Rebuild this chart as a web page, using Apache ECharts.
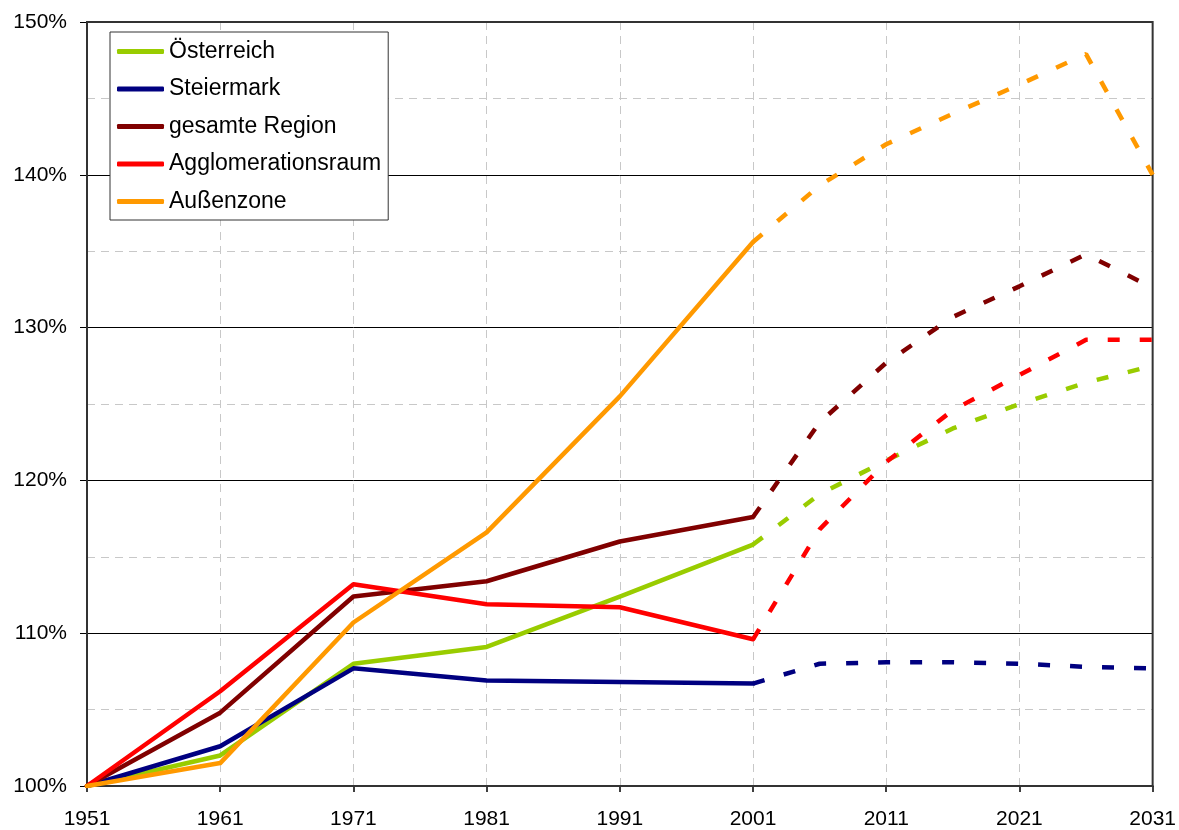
<!DOCTYPE html>
<html>
<head>
<meta charset="utf-8">
<title>Bevölkerungsentwicklung</title>
<script src="https://cdn.jsdelivr.net/npm/echarts@6/dist/echarts.min.js"></script>
<style>
    body {margin: 0; background: #fff;}
    #main {width: 1179px; height: 830px;}
</style>
</head>
<body>
<div id="main"></div>
<script>
// Jahre (Zeitachse beginnt bei 1951)
const baseYear = 1951;
const histYears = [1951, 1961, 1971, 1981, 1991, 2001];
const projYears = [2001, 2006, 2011, 2016, 2021, 2026, 2031];

const names = ['Österreich', 'Steiermark', 'gesamte Region', 'Agglomerationsraum', 'Außenzone'];
const colors = ['#99CC00', '#000080', '#800000', '#FF0000', '#FF9900'];

// Index 1951 = 100%, bisherige Entwicklung
const histOesterreich = [100, 102.0, 108.0, 109.1, 112.4, 115.8];
const histSteiermark = [100, 102.6, 107.7, 106.9, 106.8, 106.7];
const histRegion = [100, 104.8, 112.4, 113.4, 116.0, 117.6];
const histAgglo = [100, 106.2, 113.2, 111.9, 111.7, 109.6];
const histAussen = [100, 101.5, 110.7, 116.6, 125.5, 135.6];

// Prognose (gestrichelt)
const projOesterreich = [115.8, 119.1, 121.3, 123.4, 125.0, 126.4, 127.5];
const projSteiermark = [106.7, 108.0, 108.1, 108.1, 108.0, 107.8, 107.7];
const projRegion = [117.6, 123.8, 127.7, 130.7, 132.7, 134.8, 132.6];
const projAgglo = [109.6, 116.8, 121.2, 124.6, 126.9, 129.2, 129.2];
const projAussen = [135.6, 139.3, 142.0, 144.0, 145.9, 147.9, 140.0];

const histData = [histOesterreich, histSteiermark, histRegion, histAgglo, histAussen];
const projData = [projOesterreich, projSteiermark, projRegion, projAgglo, projAussen];

const fontFamily = '"Liberation Sans", Arial, sans-serif';

const toPairs = (years, values) => years.map((y, i) => [y - baseYear, values[i]]);

const series = [];
names.forEach((name, i) => {
    series.push({
        name: name,
        type: 'line',
        symbol: 'none',
        color: colors[i],
        lineStyle: {width: 4.5, color: colors[i], cap: 'round', join: 'round'},
        data: toPairs(histYears, histData[i]),
        z: 10 + i
    });
});
names.forEach((name, i) => {
    series.push({
        name: name,
        type: 'line',
        symbol: 'none',
        color: colors[i],
        lineStyle: {width: 4.5, color: colors[i], type: [12, 20], cap: 'butt'},
        data: toPairs(projYears, projData[i]),
        z: 5 + i
    });
});

const myChart = echarts.init(document.getElementById('main'), null, {renderer: 'canvas'});

const option = {
    animation: false,
    backgroundColor: '#fff',
    textStyle: {fontFamily: fontFamily},
    grid: {
        left: 87, right: 24, top: 22, bottom: 43,
        show: true,
        borderColor: '#333',
        borderWidth: 2,
        z: 3
    },
    legend: {
        data: names,
        orient: 'vertical',
        left: 110,
        top: 32,
        padding: [8, 7, 7, 7],
        itemGap: 14.5,
        itemWidth: 47,
        itemHeight: 5,
        icon: 'roundRect',
        backgroundColor: '#fff',
        borderColor: '#333',
        borderWidth: 1,
        borderRadius: 0,
        textStyle: {fontSize: 23, lineHeight: 23, color: '#000', fontFamily: fontFamily}
    },
    xAxis: {
        type: 'value',
        min: 0,
        max: 80,
        interval: 10,
        axisLine: {show: true, onZero: false, lineStyle: {color: '#000', width: 2}},
        axisTick: {show: true, length: 6, lineStyle: {color: '#000', width: 1.5}},
        axisLabel: {
            fontSize: 21,
            color: '#000',
            margin: 23,
            fontFamily: fontFamily,
            formatter: function (value) {
                return baseYear + value;
            }
        },
        splitLine: {
            show: true,
            showMinLine: false,
            showMaxLine: false,
            lineStyle: {color: '#c8c8c8', type: [8, 6], width: 1}
        }
    },
    yAxis: {
        type: 'value',
        min: 100,
        max: 150,
        interval: 10,
        axisLine: {show: true, lineStyle: {color: '#000', width: 2}},
        axisTick: {show: true, length: 7, lineStyle: {color: '#000', width: 1}},
        axisLabel: {
            fontSize: 21,
            color: '#000',
            margin: 20,
            fontFamily: fontFamily,
            formatter: '{value}%'
        },
        splitLine: {show: true, lineStyle: {color: '#000', width: 1}},
        minorTick: {show: false, splitNumber: 2},
        minorSplitLine: {show: true, lineStyle: {color: '#c8c8c8', type: [8, 6], width: 1}}
    },
    series: series
};

myChart.setOption(option);
</script>
</body>
</html>
